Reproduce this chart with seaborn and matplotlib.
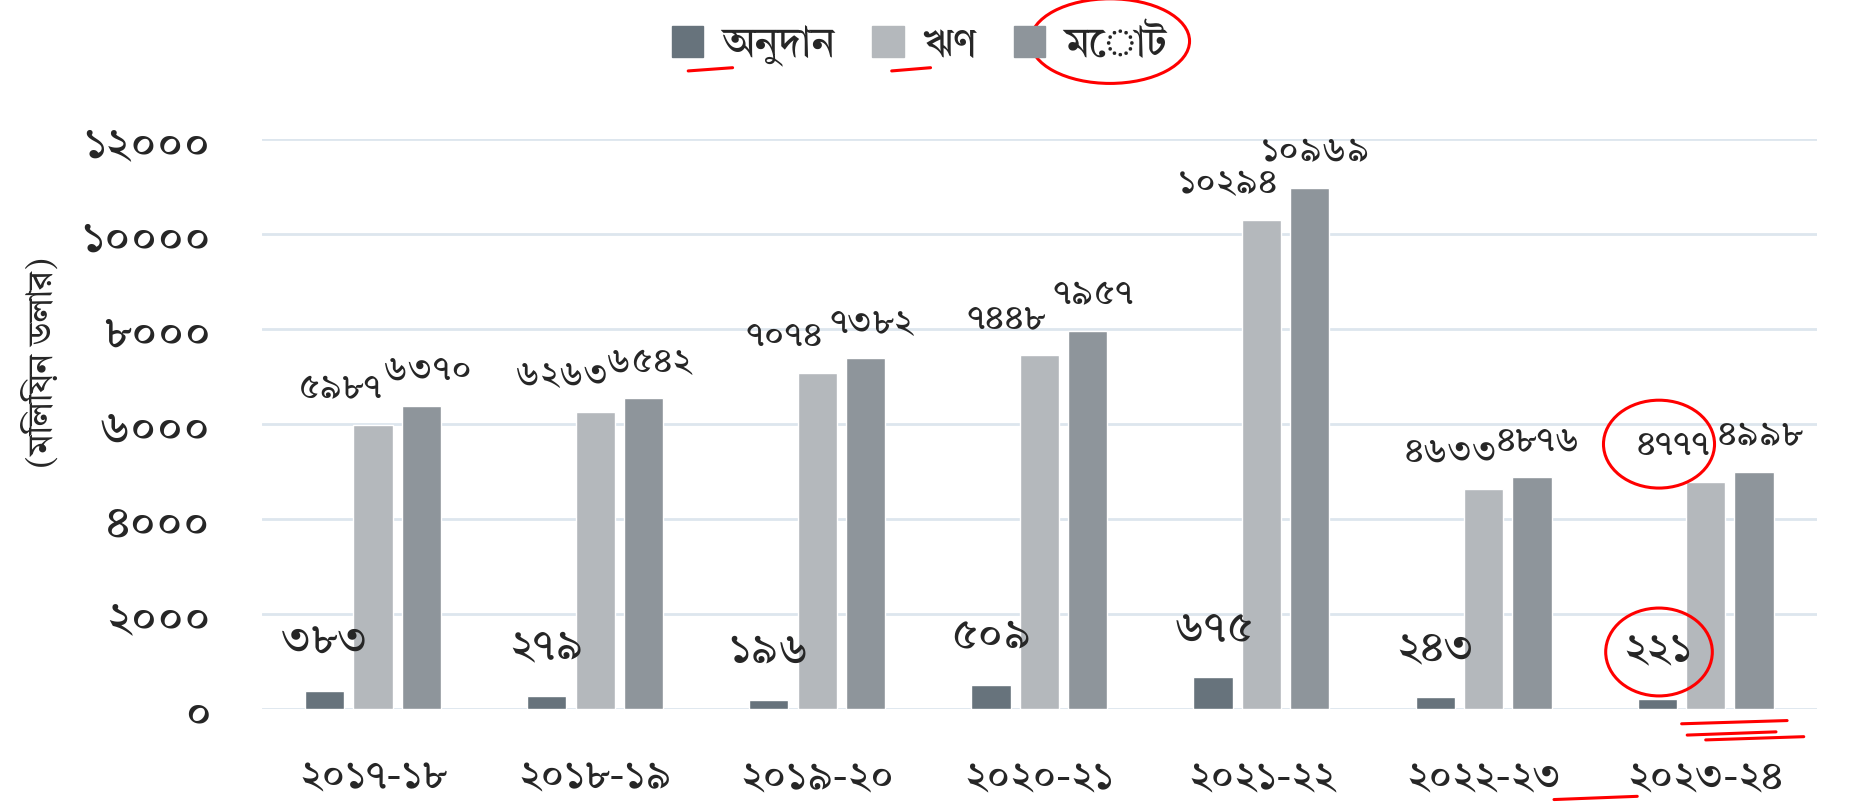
import matplotlib
matplotlib.use("Agg")
import matplotlib.pyplot as plt
from matplotlib.patches import Ellipse
import pandas as pd
import seaborn as sns

years = ["২০১৭-১৮", "২০১৮-১৯", "২০১৯-২০", "২০২০-২১", "২০২১-২২", "২০২২-২৩", "২০২৩-২৪"]
series = ["অনুদান", "ঋণ", "মোট"]
grant = [383, 279, 196, 509, 675, 243, 221]
loan = [5987, 6263, 7074, 7448, 10294, 4633, 4777]
total = [6370, 6542, 7382, 7957, 10969, 4876, 4998]
yticks = [0, 2000, 4000, 6000, 8000, 10000, 12000]
colors = ["#67737c", "#b4b8bc", "#8e959b"]

BN = str.maketrans("0123456789", "০১২৩৪৫৬৭৮৯")


def bn(v):
    return str(v).translate(BN)


sns.set_theme(style="white")
plt.rcParams["font.family"] = ["Tiro Bangla", "DejaVu Sans"]

df = pd.DataFrame({
    "year": years * 3,
    "type": [series[0]] * 7 + [series[1]] * 7 + [series[2]] * 7,
    "value": grant + loan + total,
})

fig = plt.figure(figsize=(18.5, 8.06), dpi=100)
ax = fig.add_axes([0.1416, 0.1203, 0.8404, 0.7072])

sns.barplot(data=df, x="year", y="value", hue="type", palette=colors,
            width=0.654, gap=0.19, saturation=1, legend=False, ax=ax)

ax.set_ylim(0, 12000)
ax.set_xlim(-0.5, 6.5)
ax.set_yticks(yticks)
ax.set_yticklabels([bn(t) for t in yticks])
ax.yaxis.grid(True, color="#dde6ee", linewidth=2)
ax.set_axisbelow(True)
for s in ax.spines.values():
    s.set_visible(False)
ax.tick_params(axis="y", length=0, pad=37, labelsize=33)
ax.tick_params(axis="x", length=0, pad=34, labelsize=30)
ax.set_xlabel("")
ax.set_ylabel("")

# data labels: (dx, dy) in points, font size
offsets = [(0, 35, 32), (-24, 26, 26), (4, 26, 26)]
for cont, vals, (dx, dy, fs) in zip(ax.containers, [grant, loan, total], offsets):
    for bar, v in zip(cont, vals):
        ax.annotate(bn(v), (bar.get_x() + bar.get_width() / 2, bar.get_height()),
                    xytext=(dx, dy), textcoords="offset points",
                    ha="center", va="center", fontsize=fs, clip_on=False)

fig.text(0.022, 0.55, "(মিলিয়ন ডলার)", rotation=90, ha="center", va="center",
         fontsize=25)

handles = [plt.Rectangle((0, 0), 1, 1, color=c) for c in colors]
fig.legend(handles, series, loc="center", bbox_to_anchor=(0.497, 0.944),
           ncol=3, frameon=False, fontsize=30, handlelength=0.75,
           handleheight=0.75, handletextpad=0.45, columnspacing=0.9)

# red hand-drawn marks
red = dict(fill=False, edgecolor="red", linewidth=2.2, clip_on=False)
fig.add_artist(Ellipse((0.600, 0.949), 0.086, 0.105, transform=fig.transFigure, **red))
ax.add_patch(Ellipse((5.79, 4777 + 800), 0.5, 1850, **red))
ax.add_patch(Ellipse((5.79, 221 + 980), 0.48, 1850, **red))
strokes = [(0.372, 0.396, 0.912), (0.482, 0.503, 0.912), (0.909, 0.966, 0.102),
           (0.912, 0.960, 0.088), (0.922, 0.975, 0.082), (0.840, 0.885, 0.008)]
for x0, x1, y0 in strokes:
    fig.add_artist(plt.Line2D([x0, x1], [y0, y0 + 0.004], color="red", linewidth=2.2,
                              transform=fig.transFigure))

fig.savefig("out.png", dpi=100)
